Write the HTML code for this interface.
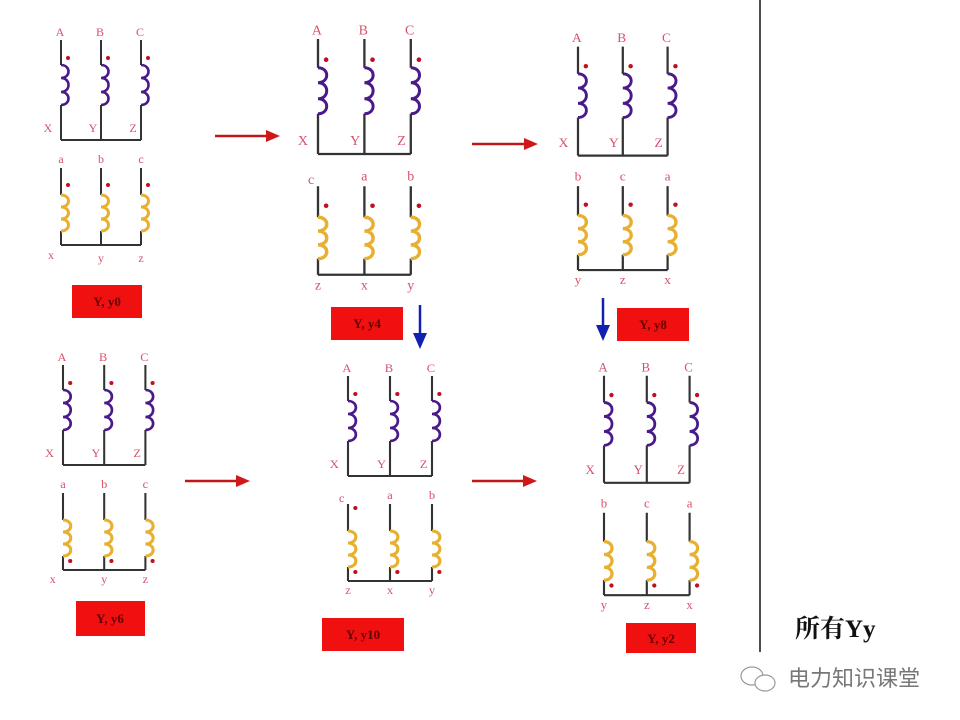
<!DOCTYPE html>
<html><head><meta charset="utf-8"><style>
html,body{margin:0;padding:0;background:#fff;}
svg{display:block;}
.l{font-family:"Liberation Serif",serif;font-size:12px;fill:#d9506a;text-anchor:middle;}
.w{stroke:#333;stroke-width:2;fill:none;}
.p{stroke:#4a1a8a;stroke-width:2.6;fill:none;}
.o{stroke:#e8b030;stroke-width:3;fill:none;}
.d{fill:#c01020;}
.bx{font-family:"Liberation Serif",serif;font-size:13px;fill:#600;text-anchor:middle;font-weight:bold;}
</style></head><body>
<svg width="960" height="720" viewBox="0 0 960 720" xmlns="http://www.w3.org/2000/svg">
<defs>
<g id="upper">
<path class="w" d="M0 40V65M0 105V140M40 40V65M40 105V140M80 40V65M80 105V140M0 140H80"/>
<path class="p" d="M0 65c10 0 10 13 0 13c10 0 10 14 0 14c10 0 10 13 0 13M40 65c10 0 10 13 0 13c10 0 10 14 0 14c10 0 10 13 0 13M80 65c10 0 10 13 0 13c10 0 10 14 0 14c10 0 10 13 0 13"/>
<circle class="d" cx="7" cy="58" r="2"/><circle class="d" cx="47" cy="58" r="2"/><circle class="d" cx="87" cy="58" r="2"/>
</g>
<g id="lower">
<path class="w" d="M0 168V195M0 231V245M40 168V195M40 231V245M80 168V195M80 231V245M0 245H80"/>
<path class="o" d="M0 195c10 0 10 12 0 12c10 0 10 12 0 12c10 0 10 12 0 12M40 195c10 0 10 12 0 12c10 0 10 12 0 12c10 0 10 12 0 12M80 195c10 0 10 12 0 12c10 0 10 12 0 12c10 0 10 12 0 12"/>
</g>
<g id="dtop"><circle class="d" cx="7" cy="185" r="2"/><circle class="d" cx="47" cy="185" r="2"/><circle class="d" cx="87" cy="185" r="2"/></g>
<g id="dbot"><circle class="d" cx="7" cy="236" r="2"/><circle class="d" cx="47" cy="236" r="2"/><circle class="d" cx="87" cy="236" r="2"/></g>
</defs>

<!-- D1 -->
<g transform="translate(61,0)">
<use href="#upper"/><use href="#lower"/><use href="#dtop"/>
<text class="l" x="-1" y="36">A</text><text class="l" x="39" y="36">B</text><text class="l" x="79" y="36">C</text>
<text class="l" x="-13" y="132">X</text><text class="l" x="32" y="132">Y</text><text class="l" x="72" y="132">Z</text>
<text class="l" x="0" y="163">a</text><text class="l" x="40" y="163">b</text><text class="l" x="80" y="163">c</text>
<text class="l" x="-10" y="259">x</text><text class="l" x="40" y="262">y</text><text class="l" x="80" y="262">z</text>
</g>
<!-- D2 -->
<g transform="translate(318,-7) scale(1.16,1.15)">
<use href="#upper"/><use href="#lower"/><use href="#dtop"/>
<text class="l" x="-1" y="36">A</text><text class="l" x="39" y="36">B</text><text class="l" x="79" y="36">C</text>
<text class="l" x="-13" y="132">X</text><text class="l" x="32" y="132">Y</text><text class="l" x="72" y="132">Z</text>
<text class="l" x="-6" y="166">c</text><text class="l" x="40" y="163">a</text><text class="l" x="80" y="163">b</text>
<text class="l" x="0" y="258">z</text><text class="l" x="40" y="258">x</text><text class="l" x="80" y="258">y</text>
</g>
<!-- D3 -->
<g transform="translate(578,3) scale(1.12,1.09)">
<use href="#upper"/><use href="#lower"/><use href="#dtop"/>
<text class="l" x="-1" y="36">A</text><text class="l" x="39" y="36">B</text><text class="l" x="79" y="36">C</text>
<text class="l" x="-13" y="132">X</text><text class="l" x="32" y="132">Y</text><text class="l" x="72" y="132">Z</text>
<text class="l" x="0" y="163">b</text><text class="l" x="40" y="163">c</text><text class="l" x="80" y="163">a</text>
<text class="l" x="0" y="258">y</text><text class="l" x="40" y="258">z</text><text class="l" x="80" y="258">x</text>
</g>
<!-- D4 -->
<g transform="translate(63,325) scale(1.03,1)">
<use href="#upper"/><use href="#lower"/><use href="#dbot"/>
<text class="l" x="-1" y="36">A</text><text class="l" x="39" y="36">B</text><text class="l" x="79" y="36">C</text>
<text class="l" x="-13" y="132">X</text><text class="l" x="32" y="132">Y</text><text class="l" x="72" y="132">Z</text>
<text class="l" x="0" y="163">a</text><text class="l" x="40" y="163">b</text><text class="l" x="80" y="163">c</text>
<text class="l" x="-10" y="258">x</text><text class="l" x="40" y="258">y</text><text class="l" x="80" y="258">z</text>
</g>
<!-- D5 -->
<g transform="translate(348,336) scale(1.05,1.0)">
<use href="#upper"/><use href="#lower"/><use href="#dbot"/><use href="#dtop" transform="translate(0,0)" opacity="0"/>
<circle class="d" cx="7" cy="172" r="2"/>
<text class="l" x="-1" y="36">A</text><text class="l" x="39" y="36">B</text><text class="l" x="79" y="36">C</text>
<text class="l" x="-13" y="132">X</text><text class="l" x="32" y="132">Y</text><text class="l" x="72" y="132">Z</text>
<text class="l" x="-6" y="166">c</text><text class="l" x="40" y="163">a</text><text class="l" x="80" y="163">b</text>
<text class="l" x="0" y="258">z</text><text class="l" x="40" y="258">x</text><text class="l" x="80" y="258">y</text>
</g>
<!-- D6 -->
<g transform="translate(604,333) scale(1.07,1.07)">
<use href="#upper"/><use href="#lower"/><use href="#dbot"/>
<text class="l" x="-1" y="36">A</text><text class="l" x="39" y="36">B</text><text class="l" x="79" y="36">C</text>
<text class="l" x="-13" y="132">X</text><text class="l" x="32" y="132">Y</text><text class="l" x="72" y="132">Z</text>
<text class="l" x="0" y="163">b</text><text class="l" x="40" y="163">c</text><text class="l" x="80" y="163">a</text>
<text class="l" x="0" y="258">y</text><text class="l" x="40" y="258">z</text><text class="l" x="80" y="258">x</text>
</g>

<!-- boxes -->
<rect x="72" y="285" width="70" height="33" fill="#f01010"/><text class="bx" x="107" y="306">Y, y0</text>
<rect x="331" y="307" width="72" height="33" fill="#f01010"/><text class="bx" x="367" y="328">Y, y4</text>
<rect x="617" y="308" width="72" height="33" fill="#f01010"/><text class="bx" x="653" y="329">Y, y8</text>
<rect x="76" y="601" width="69" height="35" fill="#f01010"/><text class="bx" x="110" y="623">Y, y6</text>
<rect x="322" y="618" width="82" height="33" fill="#f01010"/><text class="bx" x="363" y="639">Y, y10</text>
<rect x="626" y="623" width="70" height="30" fill="#f01010"/><text class="bx" x="661" y="643">Y, y2</text>

<!-- red arrows -->
<g stroke="#c01818" stroke-width="2.5" fill="#d01818">
<line x1="215" y1="136" x2="268" y2="136"/><polygon stroke="none" points="266,130 280,136 266,142"/>
<line x1="472" y1="144" x2="526" y2="144"/><polygon stroke="none" points="524,138 538,144 524,150"/>
<line x1="185" y1="481" x2="238" y2="481"/><polygon stroke="none" points="236,475 250,481 236,487"/>
<line x1="472" y1="481" x2="525" y2="481"/><polygon stroke="none" points="523,475 537,481 523,487"/>
</g>
<!-- blue arrows -->
<g stroke="#1020b0" stroke-width="2.5" fill="#1020b0">
<line x1="420" y1="305" x2="420" y2="336"/><polygon stroke="none" points="413,333 420,349 427,333"/>
<line x1="603" y1="298" x2="603" y2="328"/><polygon stroke="none" points="596,325 603,341 610,325"/>
</g>

<line x1="760" y1="0" x2="760" y2="652" stroke="#111" stroke-width="1.5"/>
<text x="795" y="637" font-family="'Liberation Serif','Noto Serif CJK SC',serif" font-size="25" font-weight="bold" fill="#111">所有Yy</text>
<g stroke="#999" stroke-width="1.2" fill="#fff">
<ellipse cx="752" cy="676" rx="11" ry="9"/>
<ellipse cx="765" cy="683" rx="10" ry="8"/>
</g>
<text x="788" y="686" font-family="'Liberation Sans','Noto Sans CJK SC',sans-serif" font-size="22" fill="#777">电力知识课堂</text>
</svg>
</body></html>
